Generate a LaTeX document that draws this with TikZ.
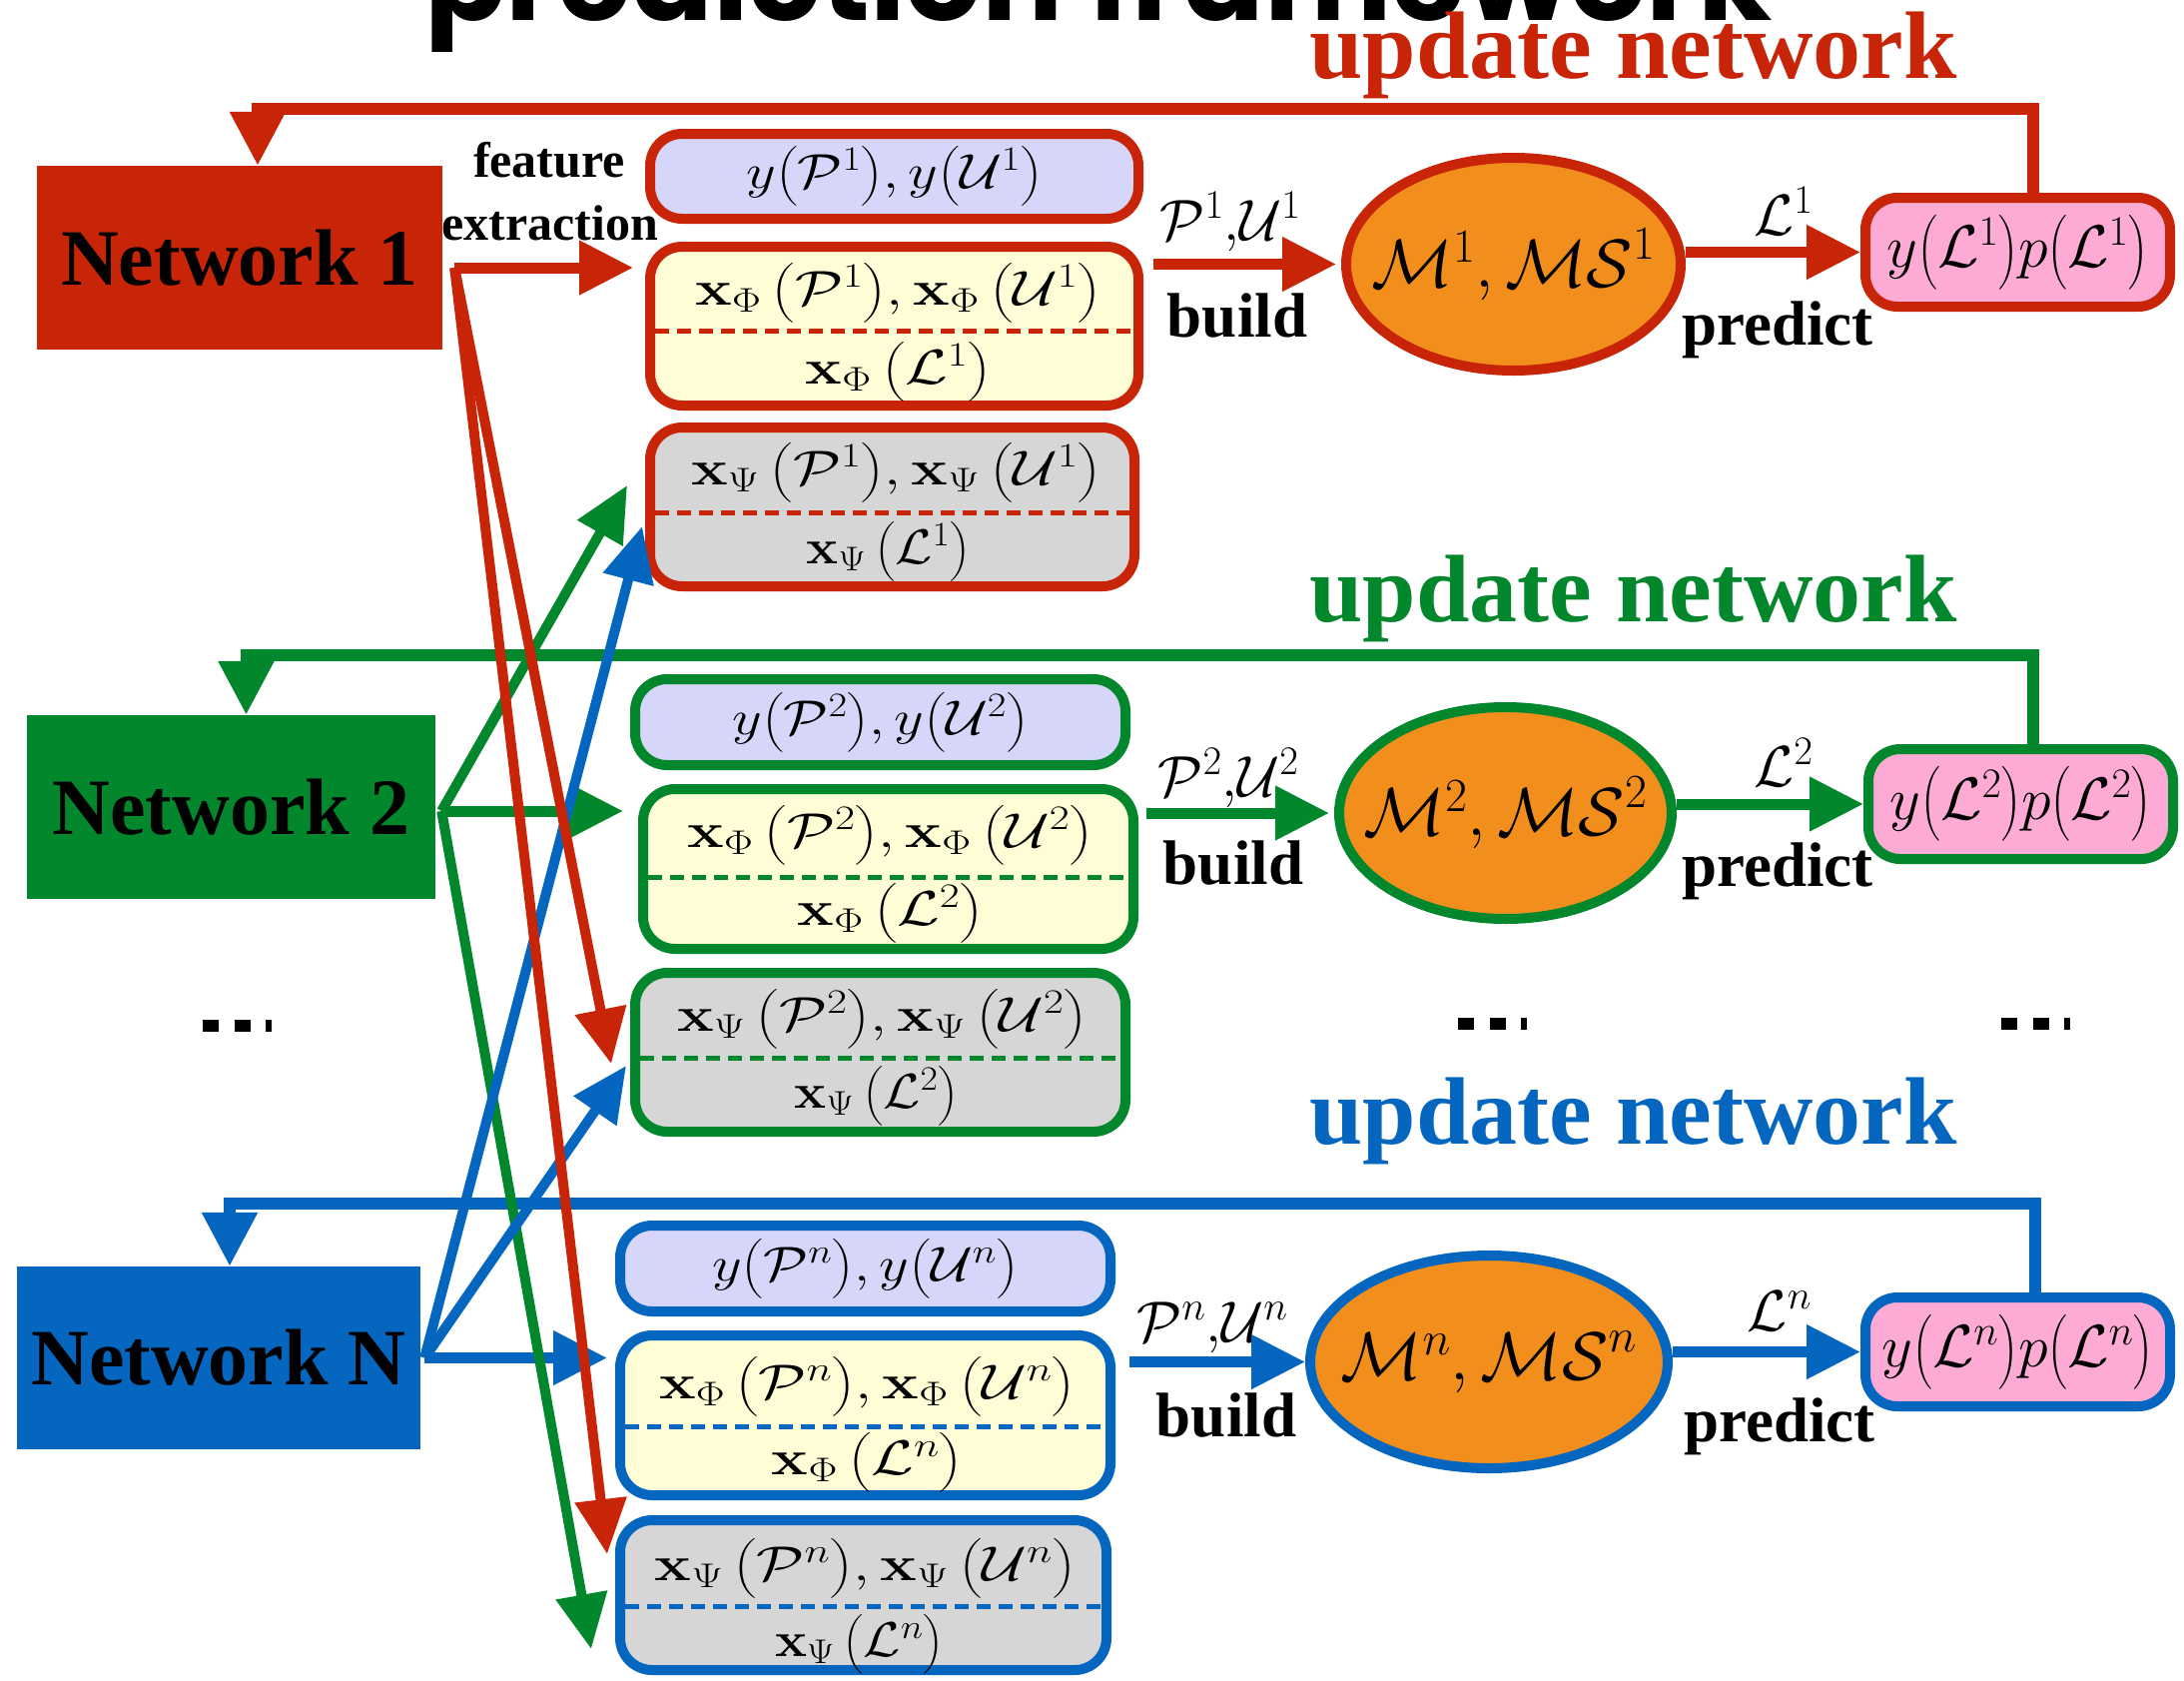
\documentclass[tikz,border=0pt]{standalone}
\usepackage{fix-cm}
\usepackage[no-math]{fontspec}
\usepackage{amsmath}
\usepackage{graphicx}
\usetikzlibrary{arrows.meta,shapes.geometric,calc}
\newfontfamily\tms{Liberation Serif}
\newfontfamily\ttlfont{Poppins}
\newcommand{\stretchx}[2][1.28]{\scalebox{#1}[1]{#2}}

\definecolor{netred}{RGB}{200,37,8}
\definecolor{netgreen}{RGB}{3,135,45}
\definecolor{netblue}{RGB}{5,102,192}
\definecolor{modelorange}{RGB}{242,143,28}
\definecolor{lablav}{RGB}{214,214,250}
\definecolor{phiyellow}{RGB}{254,253,214}
\definecolor{psigray}{RGB}{214,214,214}
\definecolor{predpink}{RGB}{253,170,213}

\tikzset{
  every node/.style={inner sep=0pt},
  netbox/.style={rectangle, fill=#1, minimum width=406pt, minimum height=184pt,
    font=\tms\bfseries\fontsize{80}{90}\selectfont},
  databox/.style={rectangle, rounded corners=32pt, draw=#1, line width=10pt},
  labbox/.style={databox=#1, fill=lablav, minimum width=489pt, minimum height=85pt,
    font=\fontsize{49}{52}\selectfont},
  phibox/.style={databox=#1, fill=phiyellow, minimum width=489pt, minimum height=159pt},
  psibox/.style={databox=#1, fill=psigray, minimum width=489pt, minimum height=159pt},
  model/.style={ellipse, draw=#1, fill=modelorange, line width=10pt,
    minimum width=334pt, minimum height=212pt},
  modeltext/.style={font=\fontsize{68}{72}\selectfont},
  predbox/.style={databox=#1, fill=predpink, minimum width=305pt, minimum height=110pt,
    font=\fontsize{60}{64}\selectfont},
  boxmath/.style={font=\fontsize{49}{52}\selectfont},
  arrowmath/.style={anchor=base, font=\fontsize{58}{62}\selectfont},
  boldlabel/.style={anchor=base, font=\tms\bfseries\fontsize{63}{70}\selectfont},
  featlabel/.style={anchor=base, font=\tms\bfseries\fontsize{50}{56}\selectfont},
  updatelabel/.style={anchor=base, text=#1, font=\tms\bfseries\fontsize{96}{100}\selectfont},
  flow/.style={draw=#1, line width=11pt, -{Triangle[length=54pt,width=52pt]}},
  fan/.style={draw=#1, line width=10pt, -{Triangle[length=55pt,width=50pt]}},
  loopline/.style={draw=#1, line width=12pt, line join=miter, -{Triangle[length=54pt,width=53pt]}},
  sepline/.style={draw=#1, line width=5pt, dash pattern=on 14pt off 8pt},
}

\begin{document}
\begin{tikzpicture}[x=1pt,y=-1pt]
\useasboundingbox (0,0) rectangle (2187,1682);
\fill[white] (0,0) rectangle (2187,1682);

% heading, cut by the top edge of the page
\node[anchor=base west] (title) at (425,20)
  {\resizebox{1349pt}{!}{\ttlfont\bfseries prediction framework}};

% ---------------- row 1 (red) ----------------
\node[updatelabel=netred] (upd1) at (1635.5,78) {update network};
\node[netbox=netred] (net1) at (240,258) {Network 1};
\node[labbox=netred] (lab1) at (895.5,176.5)
  {\stretchx[1.18]{$y\bigl(\mathcal{P}^{1}\bigr), y\bigl(\mathcal{U}^{1}\bigr)$}};
\node[phibox=netred] (phi1) at (895.5,326.5) {};
\node[psibox=netred, minimum width=485pt] (psi1) at (893.5,507.5) {};
\node[model=netred, minimum width=335pt, minimum height=213pt] (ell1) at (1515.5,264.5) {};
\node[modeltext] (ell1t) at (ell1) {$\mathcal{M}^{1},\mathcal{MS}^{1}$};
\node[predbox=netred, minimum height=109pt] (pred1) at (2020.5,252.5)
  {$y\bigl(\mathcal{L}^{1}\bigr)p\bigl(\mathcal{L}^{1}\bigr)$};

\node[boxmath] (phi1a) at ($(phi1.north)+(4,51)$)
  {\stretchx[1.26]{$\mathbf{x}_{\Phi}\,\bigl(\mathcal{P}^{1}\bigr), \mathbf{x}_{\Phi}\,\bigl(\mathcal{U}^{1}\bigr)$}};
\node[boxmath] (phi1b) at ($(phi1.north)+(4,130)$)
  {\stretchx[1.26]{$\mathbf{x}_{\Phi}\,\bigl(\mathcal{L}^{1}\bigr)$}};
\draw[sepline=netred] ($(phi1.north west)+(10,89)$) -- ($(phi1.north east)+(-10,89)$);
\node[boxmath] (psi1a) at ($(psi1.north)+(4,50)$)
  {\stretchx[1.26]{$\mathbf{x}_{\Psi}\,\bigl(\mathcal{P}^{1}\bigr), \mathbf{x}_{\Psi}\,\bigl(\mathcal{U}^{1}\bigr)$}};
\node[boxmath] (psi1b) at ($(psi1.north)+(-4,129)$)
  {\stretchx[1.1]{$\mathbf{x}_{\Psi}\,\bigl(\mathcal{L}^{1}\bigr)$}};
\draw[sepline=netred] ($(psi1.north west)+(10,90)$) -- ($(psi1.north east)+(-10,90)$);

\node[featlabel] (feat) at (550,177) {feature};
\node[featlabel] (extr) at (551,240) {extraction};
\node[arrowmath] (pu1) at (1232,240) {$\mathcal{P}^{1}{,}\mathcal{U}^{1}$};
\node[boldlabel] (build1) at (1239,337) {build};
\node[arrowmath] (l1) at (1786,235) {$\mathcal{L}^{1}$};
\node[boldlabel] (predict1) at (1780,345) {predict};

% ---------------- row 2 (green) ----------------
\node[updatelabel=netgreen] (upd2) at (1635.5,622) {update network};
\node[netbox=netgreen, minimum width=409pt] (net2) at (231.5,808) {Network 2};
\node[labbox=netgreen, minimum width=491pt, minimum height=86pt] (lab2) at (881.5,723)
  {\stretchx[1.18]{$y\bigl(\mathcal{P}^{2}\bigr), y\bigl(\mathcal{U}^{2}\bigr)$}};
\node[phibox=netgreen, minimum width=491pt, minimum height=160pt] (phi2) at (889.5,870) {};
\node[psibox=netgreen, minimum width=491pt] (psi2) at (881.5,1053.5) {};
\node[model=netgreen, minimum width=333pt] (ell2) at (1507.5,814) {};
\node[modeltext] (ell2t) at (ell2) {$\mathcal{M}^{2},\mathcal{MS}^{2}$};
\node[predbox=netgreen] (pred2) at (2023.5,805)
  {$y\bigl(\mathcal{L}^{2}\bigr)p\bigl(\mathcal{L}^{2}\bigr)$};

\node[boxmath] (phi2a) at ($(phi2.north)+(2,51)$)
  {\stretchx[1.26]{$\mathbf{x}_{\Phi}\,\bigl(\mathcal{P}^{2}\bigr), \mathbf{x}_{\Phi}\,\bigl(\mathcal{U}^{2}\bigr)$}};
\node[boxmath] (phi2b) at ($(phi2.north)+(2,129)$)
  {\stretchx[1.26]{$\mathbf{x}_{\Phi}\,\bigl(\mathcal{L}^{2}\bigr)$}};
\draw[sepline=netgreen] ($(phi2.north west)+(10,93)$) -- ($(phi2.north east)+(-10,93)$);
\node[boxmath] (psi2a) at ($(psi2.north)+(2,51)$)
  {\stretchx[1.26]{$\mathbf{x}_{\Psi}\,\bigl(\mathcal{P}^{2}\bigr), \mathbf{x}_{\Psi}\,\bigl(\mathcal{U}^{2}\bigr)$}};
\node[boxmath] (psi2b) at ($(psi2.north)+(-4,128)$)
  {\stretchx[1.1]{$\mathbf{x}_{\Psi}\,\bigl(\mathcal{L}^{2}\bigr)$}};
\draw[sepline=netgreen] ($(psi2.north west)+(10,90)$) -- ($(psi2.north east)+(-10,90)$);

\node[arrowmath] (pu2) at (1230,797) {$\mathcal{P}^{2}{,}\mathcal{U}^{2}$};
\node[boldlabel] (build2) at (1235,885) {build};
\node[arrowmath] (l2) at (1786,787) {$\mathcal{L}^{2}$};
\node[boldlabel] (predict2) at (1780,887) {predict};

% ---------------- row n (blue) ----------------
\node[updatelabel=netblue] (updN) at (1635.5,1145) {update network};
\node[netbox=netblue, minimum width=404pt, minimum height=183pt] (netN) at (219,1359.5) {Network N};
\node[labbox=netblue, minimum width=491pt, minimum height=86pt] (labN) at (866.5,1270)
  {\stretchx[1.18]{$y\bigl(\mathcal{P}^{n}\bigr), y\bigl(\mathcal{U}^{n}\bigr)$}};
\node[phibox=netblue, minimum width=491pt, minimum height=160pt] (phiN) at (866.5,1417) {};
\node[psibox=netblue, minimum width=487pt, minimum height=150pt] (psiN) at (864.5,1597) {};
\node[model=netblue, minimum width=358pt, minimum height=213pt] (ellN) at (1491,1363.5) {};
\node[modeltext] (ellNt) at (ellN) {$\mathcal{M}^{n},\mathcal{MS}^{n}$};
\node[predbox=netblue, minimum height=109pt] (predN) at (2020.5,1353.5)
  {$y\bigl(\mathcal{L}^{n}\bigr)p\bigl(\mathcal{L}^{n}\bigr)$};

\node[boxmath] (phiNa) at ($(phiN.north)+(2,56)$)
  {\stretchx[1.26]{$\mathbf{x}_{\Phi}\,\bigl(\mathcal{P}^{n}\bigr), \mathbf{x}_{\Phi}\,\bigl(\mathcal{U}^{n}\bigr)$}};
\node[boxmath] (phiNb) at ($(phiN.north)+(2,132)$)
  {\stretchx[1.26]{$\mathbf{x}_{\Phi}\,\bigl(\mathcal{L}^{n}\bigr)$}};
\draw[sepline=netblue] ($(phiN.north west)+(10,96)$) -- ($(phiN.north east)+(-10,96)$);
\node[boxmath] (psiNa) at ($(psiN.north)+(2,53)$)
  {\stretchx[1.26]{$\mathbf{x}_{\Psi}\,\bigl(\mathcal{P}^{n}\bigr), \mathbf{x}_{\Psi}\,\bigl(\mathcal{U}^{n}\bigr)$}};
\node[boxmath] (psiNb) at ($(psiN.north)+(-4,129)$)
  {\stretchx[1.1]{$\mathbf{x}_{\Psi}\,\bigl(\mathcal{L}^{n}\bigr)$}};
\draw[sepline=netblue] ($(psiN.north west)+(10,91)$) -- ($(psiN.north east)+(-10,91)$);

\node[arrowmath] (puN) at (1214,1343) {$\mathcal{P}^{n}{,}\mathcal{U}^{n}$};
\node[boldlabel] (buildN) at (1228,1438) {build};
\node[arrowmath] (lN) at (1782,1332) {$\mathcal{L}^{n}$};
\node[boldlabel] (predictN) at (1782,1443) {predict};

% ellipsis marks between row 2 and row n
\foreach \bx/\by in {203/1021, 1460/1019, 2004/1019}{
  \fill (\bx,\by) rectangle ++(16,12);
  \fill (\bx+32,\by) rectangle ++(16,12);
  \fill (\bx+63,\by) rectangle ++(6,12);
}

% ---------------- update loops ----------------
\coordinate (u1) at (0,109);
\coordinate (u2) at (0,656);
\coordinate (uN) at (0,1205);
\coordinate (p1out) at ($(pred1.north)+(15,0)$);
\coordinate (p2out) at ($(pred2.north)+(12,0)$);
\coordinate (pNout) at ($(predN.north)+(17,0)$);
\coordinate (n1in) at ($(net1.north)+(18,0)$);
\coordinate (n2in) at ($(net2.north)+(15,0)$);
\coordinate (nNin) at ($(netN.north)+(11,0)$);
\draw[loopline=netred] (p1out) |- (n1in |- u1) -- (n1in);
\draw[loopline=netgreen] (p2out) |- (n2in |- u2) -- (n2in);
\draw[loopline=netblue] (pNout) |- (nNin |- uN) -- (nNin);

% ---------------- build / predict ----------------
\draw[flow=netred, shorten <=10pt, shorten >=5pt] (phi1.east |- ell1.west) -- (ell1.west);
\draw[flow=netgreen, shorten <=8pt, shorten >=5pt] (phi2.east |- ell2.west) -- (ell2.west);
\draw[flow=netblue, shorten <=14pt] (phiN.east |- ellN.west) -- (ellN.west);
\draw[flow=netred] (ell1.east |- pred1.west) -- (pred1.west);
\draw[flow=netgreen] (ell2.east |- pred2.west) -- (pred2.west);
\draw[flow=netblue] (ellN.east |- predN.west) -- (predN.west);

% ---------------- feature extraction ----------------
\coordinate (f1) at ($(net1.east)+(12,10)$);
\coordinate (f2) at ($(net2.east)+(6,4)$);
\coordinate (fN) at ($(netN.east)+(4,0)$);
\draw[flow=netred, shorten >=12pt] (f1) -- (f1 -| phi1.west);
\draw[flow=netgreen, shorten >=15pt] (f2) -- (f2 -| phi2.west);
\draw[flow=netblue, shorten >=8pt] (fN) -- (fN -| phiN.west);

\draw[fan=netgreen] (f2) -- ($(psi1.north west)+(-18,63)$);
\draw[fan=netgreen] (f2) -- ($(psiN.north west)+(-24,134)$);
\draw[fan=netblue] (fN) -- ($(psi1.north west)+(-3,104)$);
\draw[fan=netblue] (fN) -- ($(psi2.north west)+(-4,98)$);
\draw[fan=netred] (f1) -- ($(psi2.north west)+(-19,96)$);
\draw[fan=netred] (f1) -- ($(psiN.north west)+(-8,39)$);
\end{tikzpicture}
\end{document}
